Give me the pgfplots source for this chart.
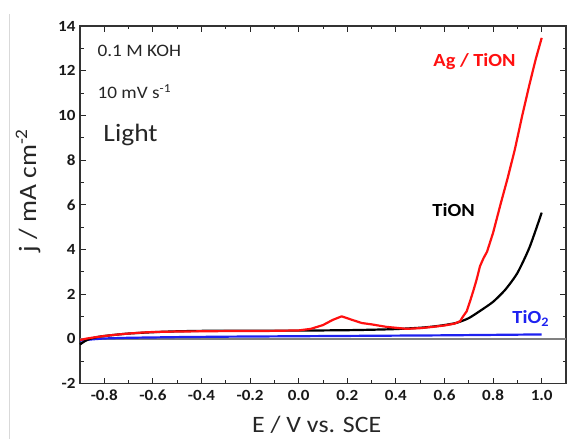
\documentclass[border=0pt]{standalone}
\usepackage{pgfplots}
\pgfplotsset{compat=1.18}
\usepackage{fontspec}
\setmainfont{Carlito}[FakeStretch=1.1]
\definecolor{cvblue}{HTML}{1E22F0}
\definecolor{cvred}{HTML}{FF1010}

\begin{document}
\begin{tikzpicture}
\draw[black!15, line width=1pt] (-70pt,-55pt) -- (-70pt,370pt);
\begin{axis}[
    scale only axis,
    width=486pt, height=357.6pt,
    xmin=-0.9, xmax=1.1,
    ymin=-2, ymax=14,
    xtick={-0.8,-0.6,-0.4,-0.2,0,0.2,0.4,0.6,0.8,1.0},
    xticklabels={-0.8,-0.6,-0.4,-0.2,0.0,0.2,0.4,0.6,0.8,1.0},
    ytick={-2,0,2,4,6,8,10,12,14},
    yticklabels={-2,0,2,4,6,8,10,12,14},
    minor x tick num=1,
    minor y tick num=1,
    tick align=inside,
    major tick length=6pt,
    minor tick length=3.5pt,
    every tick/.style={black!85, line width=1pt},
    axis line style={black!80, line width=1.2pt},
    ticklabel style={font=\fontsize{15.5}{18}\selectfont\bfseries, text=black!90},
    xticklabel style={yshift=-3pt},
    yticklabel style={xshift=-1pt},
    xlabel={E / V vs. SCE},
    ylabel={j / mA cm\textsuperscript{-2}},
    xlabel style={font=\fontsize{23.5}{26}\selectfont, text=black!85,
        at={(axis description cs:0.487,-0.1375)}, anchor=base},
    ylabel style={font=\fontsize{25}{28}\selectfont, text=black!85,
        at={(axis description cs:-0.107,0.54)}, anchor=center},
    clip=false,
]
\addplot[gray, line width=1.3pt] coordinates {(-0.9,0) (1.1,0)};
\addplot[cvblue, line width=2.2pt, line join=round] coordinates {
    (-0.9,-0.08) (-0.85,-0.02) (-0.8,0.02) (-0.7,0.05) (-0.5,0.08)
    (-0.3,0.10) (0.0,0.12) (0.3,0.14) (0.6,0.16) (0.8,0.18) (1.0,0.20)
};
\addplot[black, line width=2.2pt, line join=round, smooth, tension=0.4] coordinates {
    (-0.9,-0.25) (-0.88,-0.10) (-0.86,0.00) (-0.83,0.08) (-0.8,0.13)
    (-0.75,0.19) (-0.7,0.24) (-0.6,0.30) (-0.5,0.34) (-0.4,0.36)
    (-0.3,0.37) (-0.2,0.37) (-0.1,0.37) (0.0,0.37) (0.1,0.38)
    (0.2,0.39) (0.3,0.41) (0.4,0.44) (0.5,0.50) (0.55,0.55)
    (0.6,0.62) (0.65,0.72) (0.7,0.93) (0.75,1.28) (0.8,1.66)
    (0.85,2.20) (0.9,2.95) (0.95,4.10) (1.0,5.65)
};
\addplot[cvred, line width=2.2pt, line join=round] coordinates {
    (-0.9,-0.05) (-0.87,0.02) (-0.84,0.07) (-0.8,0.13) (-0.75,0.19)
    (-0.7,0.24) (-0.65,0.28) (-0.6,0.31) (-0.5,0.33) (-0.4,0.34)
    (-0.3,0.35) (-0.2,0.35) (-0.1,0.36) (0.0,0.38) (0.05,0.45)
    (0.1,0.62) (0.14,0.85) (0.177,1.01) (0.22,0.85) (0.26,0.71)
    (0.3,0.65) (0.36,0.54) (0.444,0.45) (0.5,0.48) (0.553,0.54)
    (0.6,0.60) (0.64,0.68) (0.664,0.79) (0.676,1.00) (0.691,1.23)
    (0.705,1.68) (0.72,2.20) (0.732,2.65) (0.746,3.25) (0.76,3.60)
    (0.775,3.90) (0.80,4.75) (0.83,6.00) (0.86,7.20) (0.89,8.50)
    (0.92,10.00) (0.95,11.40) (0.975,12.50) (1.0,13.47)
};
\node[anchor=base west, font=\fontsize{17.5}{20}\selectfont, text=black!85] at (axis cs:-0.842,12.63) {0.1 M KOH};
\node[anchor=base west, font=\fontsize{17.5}{20}\selectfont, text=black!85] at (axis cs:-0.842,10.75) {10 mV s\textsuperscript{-1}};
\node[anchor=base west, font=\fontsize{25}{28}\selectfont, text=black!85] at (axis cs:-0.818,8.83) {Light};
\node[anchor=base west, font=\fontsize{18.5}{22}\selectfont\bfseries, text=cvred] at (axis cs:0.54,12.18) {Ag / TiON};
\node[anchor=base west, font=\fontsize{18.5}{22}\selectfont\bfseries, text=black] at (axis cs:0.536,5.47) {TiON};
\node[anchor=base west, font=\fontsize{18.5}{22}\selectfont\bfseries, text=cvblue] at (axis cs:0.865,0.685) {TiO\textsubscript{2}};
\end{axis}
\pgfresetboundingbox
\path[use as bounding box] (-80pt,-55pt) rectangle (489pt,383.6pt);
\end{tikzpicture}
\end{document}
